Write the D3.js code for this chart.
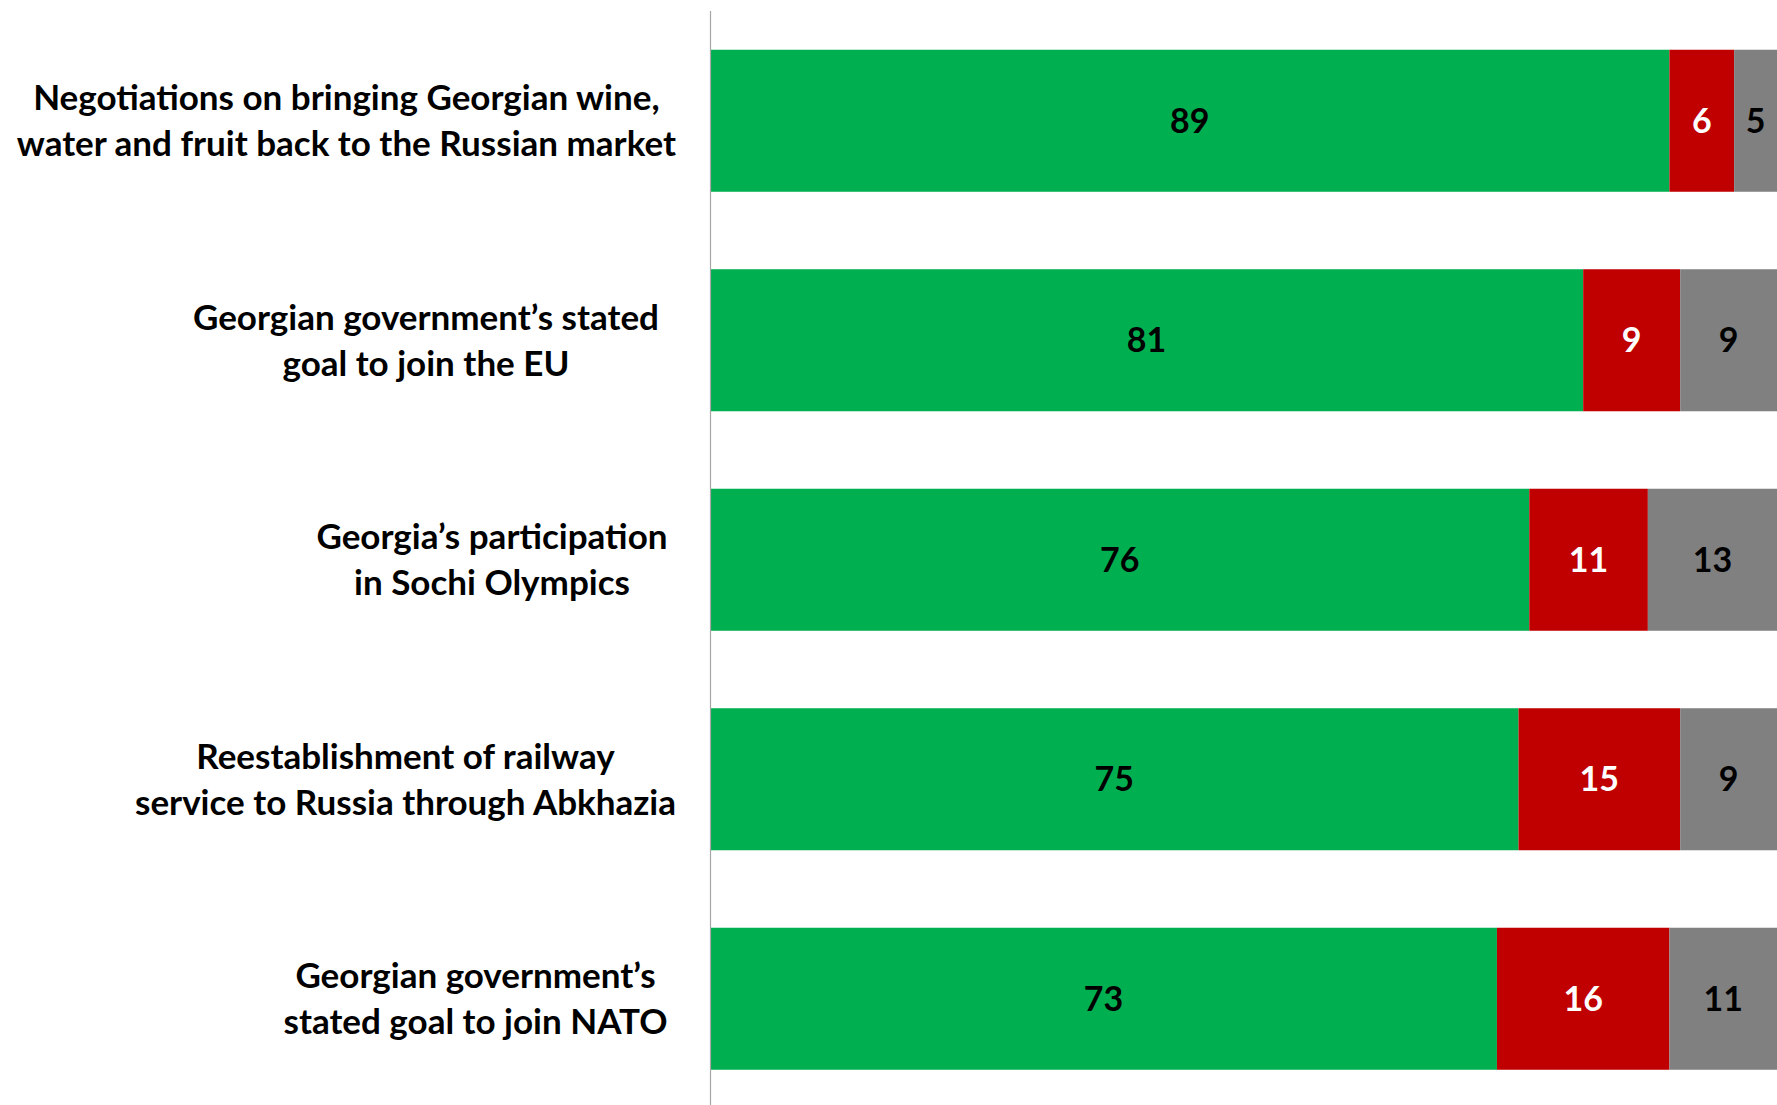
<!DOCTYPE html>
<html>
<head>
<meta charset="utf-8">
<script src="https://cdn.jsdelivr.net/npm/d3@7"></script>
<style>
  html, body { margin: 0; padding: 0; background: #ffffff; overflow: hidden; }
  svg { display: block; }
  text { font-family: Lato, "Open Sans", sans-serif; font-weight: 700; white-space: pre; }
</style>
</head>
<body>
<svg id="chart" width="1777" height="1105"></svg>
<script>
// Survey items, each label split into its display lines (trailing spaces kept as typed)
const categories = [
  "Negotiations on bringing Georgian wine,\nwater and fruit back to the Russian market",
  "Georgian government\u2019s stated\u00a0\u00a0\ngoal to join the EU\u00a0\u00a0",
  "Georgia\u2019s participation\u00a0\nin Sochi Olympics\u00a0",
  "Reestablishment of railway\nservice to Russia through Abkhazia",
  "Georgian government\u2019s\u00a0\nstated goal to join NATO\u00a0"
];
const seriesNames = ["Support", "Oppose", "Don't know"];
const support   = [89, 81, 76, 75, 73];
const oppose    = [6, 9, 11, 15, 16];
const dontKnow  = [5, 9, 13, 9, 11];
const seriesColors = ["#00B050", "#C00000", "#808080"];
const labelColors  = ["#000000", "#ffffff", "#000000"];

const W = 1777, H = 1105;
const axisX = 710, plotTop = 11;

const svg = d3.select("#chart");

const rows = categories.map((c, i) => ({ cat: c, vals: [support[i], oppose[i], dontKnow[i]] }));

const x = d3.scaleLinear().domain([0, 100]).range([axisX, axisX + 1078]);
const y = d3.scaleBand()
  .domain(categories)
  .range([plotTop, plotTop + 1097.5])
  .paddingInner(0.353)
  .paddingOuter(0.1765);

// clip the plot at the right edge of the page
svg.append("defs").append("clipPath").attr("id", "plotClip")
  .append("rect").attr("x", axisX).attr("y", 0).attr("width", W - axisX).attr("height", H);

const plot = svg.append("g").attr("clip-path", "url(#plotClip)");

rows.forEach(r => {
  let acc = 0;
  r.segs = r.vals.map((v, k) => {
    const s = { x0: acc, x1: acc + v, v, k, cat: r.cat };
    acc += v;
    return s;
  });
});

const segs = rows.flatMap(r => r.segs);

plot.selectAll("rect.seg").data(segs).join("rect")
  .attr("class", "seg")
  .attr("x", d => x(d.x0))
  .attr("y", d => y(d.cat))
  .attr("width", d => x(d.x1) - x(d.x0))
  .attr("height", y.bandwidth())
  .attr("fill", d => seriesColors[d.k]);

// value labels centred in the visible part of each segment
svg.selectAll("text.val").data(segs).join("text")
  .attr("class", "val")
  .attr("x", d => (x(d.x0) + Math.min(x(d.x1), W)) / 2)
  .attr("y", d => y(d.cat) + y.bandwidth() / 2)
  .attr("dy", "0.36em")
  .attr("text-anchor", "middle")
  .attr("font-size", 34)
  .attr("fill", d => labelColors[d.k])
  .text(d => d.v);

// category axis line
svg.append("line")
  .attr("x1", axisX + 0.5).attr("x2", axisX + 0.5)
  .attr("y1", plotTop).attr("y2", H)
  .attr("stroke", "#A6A6A6").attr("stroke-width", 1.2);

// category labels: centred lines in a block right-aligned to the axis
const labelRight = 676, lineGap = 46;
categories.forEach(c => {
  const lines = c.split("\n");
  const g = svg.append("g");
  const cy = y(c) + y.bandwidth() / 2;
  const texts = lines.map((ln, j) => g.append("text")
    .attr("y", cy + (j - (lines.length - 1) / 2) * lineGap)
    .attr("dy", "0.36em")
    .attr("text-anchor", "middle")
    .attr("font-size", 35)
    .attr("fill", "#000")
    .text(ln));
  const maxW = d3.max(texts, t => t.node().getComputedTextLength());
  texts.forEach(t => t.attr("x", labelRight - maxW / 2));
});
</script>
</body>
</html>
